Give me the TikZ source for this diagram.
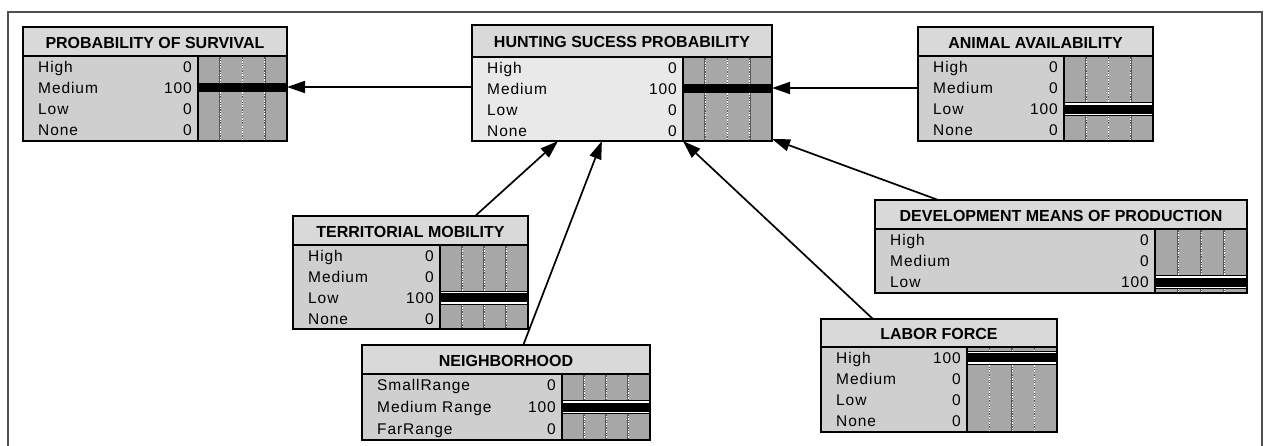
\documentclass[tikz,border=0pt]{standalone}
\usepackage{fontspec}
\setmainfont{Liberation Sans}
\newfontfamily\rowfont[LetterSpace=6]{Liberation Sans}
\usetikzlibrary{arrows.meta,calc}
\definecolor{titlefill}{HTML}{D9D9D9}
\definecolor{bodyfill}{HTML}{CFCFCF}
\definecolor{bodylight}{HTML}{E9E9E9}
\definecolor{barfill}{HTML}{A7A7A7}
\definecolor{framegray}{HTML}{505050}
\tikzset{
  frameline/.style={draw=black,line width=1.6pt},
  outerframe/.style={draw=framegray,line width=2pt},
  titletext/.style={font=\bfseries\fontsize{16}{18}\selectfont,inner sep=0pt},
  rowtext/.style={font=\rowfont\fontsize{15.5}{17}\selectfont,inner sep=0pt},
  dotunder/.style={draw=black!65,line width=1.6pt},
  dotover/.style={draw=white,line width=1pt,dash pattern=on 1.3pt off 1.3pt},
  arr/.style={draw=black,line width=1.7pt,-{Triangle[length=18pt,width=12pt]}},
  namedbox/.style={draw=none,inner sep=0pt,outer sep=0pt,anchor=north west}
}
% #1 name #2 x1 #3 y1 #4 x2 #5 y2 #6 title-bottom #7 bar-x #8 body colour #9 title
\newcommand\bnbox[9]{%
  \def\Xa{#2}\def\Ya{#3}\def\Xb{#4}\def\Yb{#5}\def\Ty{#6}\def\Bx{#7}%
  \fill[titlefill] (#2,#3) rectangle (#4,#6);
  \fill[#8] (#2,#6) rectangle (#7,#5);
  \fill[barfill] (#7,#6) rectangle (#4,#5);
  \foreach \f in {0.25,0.5,0.75}{%
    \draw[dotunder] ({#7+\f*(#4-#7)},#6) -- ({#7+\f*(#4-#7)},#5);
    \draw[dotover] ({#7+\f*(#4-#7)},#6) -- ({#7+\f*(#4-#7)},#5);
  }
  \node[titletext] at ({(#2+#4)/2},{(#3+#6)/2+1}) {#9};
  \node[namedbox,minimum width={(#4-#2)*1pt},minimum height={(#5-#3)*1pt}] (#1) at (#2,#3) {};
}
% #1 number of rows #2 list label/value #3 framed bar (1/0)
\newcommand\bnrows[3]{%
  \pgfmathsetmacro\rh{(\Yb-\Ty)/#1}%
  \foreach \lab/\val [count=\i] in {#2}{%
    \pgfmathsetmacro\yc{\Ty+(\i-0.5)*\rh}%
    \node[rowtext,anchor=base west] at (\Xa+15,\yc+5.5) {\lab};
    \node[rowtext,anchor=base east] at (\Bx-6,\yc+5.5) {\val};
    \ifnum\val=100
      \ifnum#3=1
        \fill[white] (\Bx,\yc-6.5) rectangle (\Xb,\yc+6.5);
        \draw[black,line width=0.9pt] (\Bx,\yc-6.5) -- (\Xb,\yc-6.5) (\Bx,\yc+6.5) -- (\Xb,\yc+6.5);
      \fi
      \fill[black] (\Bx,\yc-4.5) rectangle (\Xb,\yc+4.5);
    \fi
  }
  \draw[frameline] (\Xa,\Ty) -- (\Xb,\Ty) (\Bx,\Ty) -- (\Bx,\Yb);
  \draw[frameline] (\Xa,\Ya) rectangle (\Xb,\Yb);
}
\begin{document}
\begin{tikzpicture}[x=1pt,y=-1pt]
\useasboundingbox (0,0) rectangle (1264,445);
\fill[white] (0,0) rectangle (1264,445);
\draw[outerframe] (7.5,446) -- (7.5,11.5) -- (1262,11.5) -- (1262,446);

\bnbox{surv}{23}{27}{287}{141}{56}{198}{bodyfill}{PROBABILITY OF SURVIVAL}
\bnrows{4}{High/0,Medium/100,Low/0,None/0}{0}

\bnbox{hunt}{472}{25}{772}{141}{57}{683}{bodylight}{HUNTING SUCESS PROBABILITY}
\bnrows{4}{High/0,Medium/100,Low/0,None/0}{0}

\bnbox{anim}{918}{27}{1153}{141}{56}{1064}{bodyfill}{ANIMAL AVAILABILITY}
\bnrows{4}{High/0,Medium/0,Low/100,None/0}{1}

\bnbox{terr}{293}{216}{528}{329}{245}{440}{bodyfill}{TERRITORIAL MOBILITY}
\bnrows{4}{High/0,Medium/0,Low/100,None/0}{1}

\bnbox{neigh}{362}{345}{650}{440}{374}{562}{bodyfill}{NEIGHBORHOOD}
\bnrows{3}{SmallRange/0,Medium Range/100,FarRange/0}{1}

\bnbox{dev}{875}{200}{1247}{293}{229}{1155}{bodyfill}{DEVELOPMENT MEANS OF PRODUCTION}
\bnrows{3}{High/0,Medium/0,Low/100}{1}

\bnbox{labor}{821}{319}{1057}{432}{347}{967}{bodyfill}{LABOR FORCE}
\bnrows{4}{High/100,Medium/0,Low/0,None/0}{1}

\draw[arr] ([yshift=-4pt]hunt.west) -- ([yshift=-3pt]surv.east);
\draw[arr] ([yshift=-4pt]anim.west) -- ([yshift=-5pt]hunt.east);
\draw[arr] ($(terr.north west)!0.775!(terr.north east)$) -- ($(hunt.south west)!0.287!(hunt.south east)$);
\draw[arr] ($(neigh.north west)!0.56!(neigh.north east)$) -- ($(hunt.south west)!0.433!(hunt.south east)$);
\draw[arr] ($(labor.north west)!0.22!(labor.north east)$) -- ($(hunt.south west)!0.703!(hunt.south east)$);
\draw[arr] ($(dev.north west)!0.17!(dev.north east)$) -- ([yshift=2pt]hunt.south east);
\end{tikzpicture}
\end{document}
